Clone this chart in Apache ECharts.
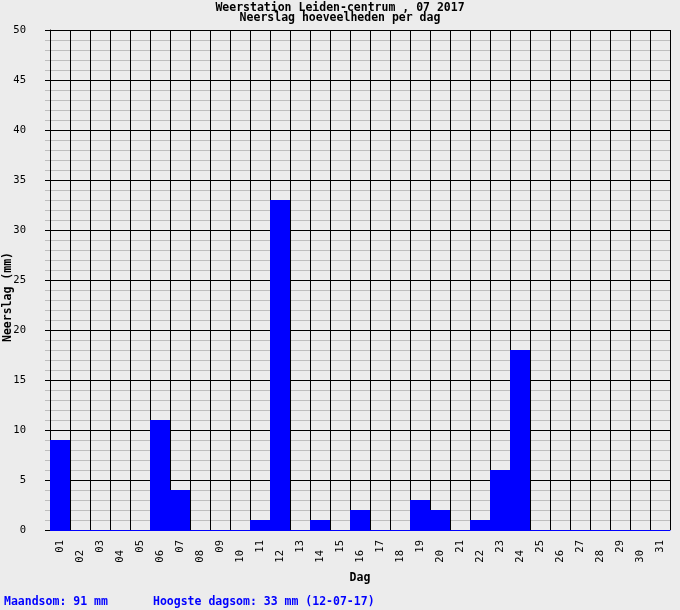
<!DOCTYPE html>
<html>
<head>
<meta charset="utf-8">
<script src="https://cdn.jsdelivr.net/npm/echarts@6/dist/echarts.min.js"></script>
<style>
  html, body { margin: 0; padding: 0; background: #ececec; }
  #chart { width: 680px; height: 610px; }
</style>
</head>
<body>
<div id="chart"></div>
<script>
// dagen van juli 2017
const days = ['01','02','03','04','05','06','07','08','09','10','11','12','13','14','15','16',
  '17','18','19','20','21','22','23','24','25','26','27','28','29','30','31'];
// neerslag per dag (mm)
const rain = [9, 0, 0, 0, 0, 11, 4, 0, 0, 0, 1, 33, 0, 1, 0, 2,
  0, 0, 3, 2, 0, 1, 6, 18, 0, 0, 0, 0, 0, 0, 0];

const titleLines = ['Weerstation Leiden-centrum , 07 2017', 'Neerslag hoeveelheden per dag'];
const yName = 'Neerslag (mm)';
const footerSum = 'Maandsom: 91 mm';
const footerMax = 'Hoogste dagsom: 33 mm (12-07-17)';

const mono = 'DejaVu Sans Mono';
const boldFont = 'bold 11.5px "' + mono + '"';

const chart = echarts.init(document.getElementById('chart'));
const option = {
  backgroundColor: '#ececec',
  animation: false,
  grid: { left: 50, right: 10, top: 30, bottom: 80, containLabel: false, outerBoundsMode: 'none' },
  graphic: [
    { type: 'text', left: 'center', top: 2,
      style: { text: titleLines[0], font: boldFont, fill: '#000' } },
    { type: 'text', left: 'center', top: 12,
      style: { text: titleLines[1], font: boldFont, fill: '#000' } },
    // y-as titel, van onder naar boven
    { type: 'text', x: 8, y: 297, rotation: Math.PI / 2,
      style: { text: yName, font: boldFont, fill: '#000', align: 'center', verticalAlign: 'middle' } },
    { type: 'text', left: 4, top: 596,
      style: { text: footerSum, font: boldFont, fill: '#0000ff' } },
    { type: 'text', left: 153, top: 596,
      style: { text: footerMax, font: boldFont, fill: '#0000ff' } }
  ],
  xAxis: [
    {
      type: 'category',
      data: days,
      position: 'bottom',
      name: 'Dag',
      nameLocation: 'middle',
      nameGap: 42,
      nameMoveOverlap: false,
      nameTextStyle: { fontFamily: mono, fontWeight: 'bold', fontSize: 11.5, color: '#000' },
      axisLine: { lineStyle: { color: '#0000ff', width: 1 } },
      axisTick: { interval: 0, length: 5, lineStyle: { color: '#000' } },
      splitLine: { show: true, interval: 0, lineStyle: { color: '#000', width: 1 } },
      axisLabel: {
        rotate: 90, margin: 10,
        interval: (i) => i % 2 === 0,
        fontFamily: mono, fontSize: 10.5, color: '#000'
      }
    },
    {
      type: 'category',
      data: days,
      position: 'bottom',
      axisLine: { show: false },
      axisTick: { show: false },
      splitLine: { show: false },
      axisLabel: {
        rotate: 90, margin: 20,
        interval: (i) => i % 2 === 1,
        fontFamily: mono, fontSize: 10.5, color: '#000'
      }
    }
  ],
  yAxis: {
    type: 'value',
    min: 0, max: 50, interval: 5,
    axisLine: { show: true, lineStyle: { color: '#000' } },
    axisTick: { show: true, length: 5, lineStyle: { color: '#000' } },
    minorTick: { show: true, splitNumber: 5, length: 5, lineStyle: { color: '#bebebe' } },
    splitLine: { show: true, lineStyle: { color: '#000', width: 1 } },
    minorSplitLine: { show: true, lineStyle: { color: '#bebebe', width: 1 } },
    axisLabel: { margin: 24, fontFamily: mono, fontSize: 10.5, color: '#000' }
  },
  series: [
    {
      type: 'bar',
      xAxisIndex: 0,
      data: rain,
      barWidth: '100%',
      barCategoryGap: 0,
      itemStyle: { color: '#0000ff' }
    }
  ]
};
chart.setOption(option);
</script>
</body>
</html>
